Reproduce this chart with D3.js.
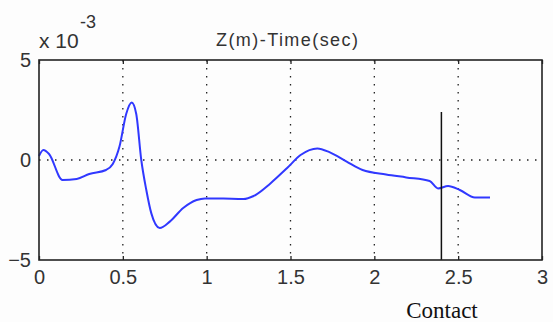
<!DOCTYPE html>
<html lang="en">
<head>
<meta charset="UTF-8">
<title>Z(m)-Time(sec)</title>
<script src="https://cdn.jsdelivr.net/npm/d3@7"></script>
<style>
  body { margin: 0; background: #fdfdfd; }
  svg { display: block; }
</style>
</head>
<body>
<script>
// time (sec) and Z (x 10^-3 m)
const timeSec = [0, 0.026, 0.06, 0.14, 0.225, 0.30, 0.40, 0.44, 0.48, 0.52, 0.553, 0.58, 0.61, 0.64, 0.67, 0.72,
  0.78, 0.86, 0.94, 0.99, 1.10, 1.22, 1.28, 1.38, 1.48, 1.56, 1.66, 1.735, 1.835, 1.93, 2.07, 2.19, 2.33, 2.38,
  2.44, 2.51, 2.60, 2.69];
const zVal = [0.2, 0.5, 0.3, -1.0, -0.95, -0.7, -0.5, -0.2, 0.67, 2.3, 2.87, 2.3, 0, -1.5, -2.67, -3.4,
  -3.08, -2.4, -2.0, -1.92, -1.93, -1.95, -1.8, -1.17, -0.4, 0.25, 0.58, 0.38, -0.08, -0.5, -0.72, -0.87, -1.05, -1.42,
  -1.3, -1.5, -1.87, -1.88];
const xTicks = [0, 0.5, 1, 1.5, 2, 2.5, 3];
const yTicks = [-5, 0, 5];
const contactT = 2.40;
const contactTop = 2.4;

const w = 553, h = 322;
const padL = 39, padR = 542, padT = 60, padB = 260;
const sans = 'Liberation Sans, Arial';

const svg = d3.select('body').append('svg').attr('width', w).attr('height', h);

const x = d3.scaleLinear().domain([0, 3]).range([padL, padR]);
const y = d3.scaleLinear().domain([-5, 5]).range([padB, padT]);

// dotted grid
svg.append('g').selectAll('line').data(xTicks.slice(1, -1)).enter().append('line')
  .attr('x1', d => x(d)).attr('x2', d => x(d)).attr('y1', padT).attr('y2', padB)
  .attr('stroke', '#222').attr('stroke-width', 1.3).attr('stroke-dasharray', '1.5,6.5');
svg.append('g').selectAll('line').data([0]).enter().append('line')
  .attr('x1', padL).attr('x2', padR).attr('y1', d => y(d)).attr('y2', d => y(d))
  .attr('stroke', '#222').attr('stroke-width', 1.3).attr('stroke-dasharray', '1.5,6.5');

// curve
const line = d3.line().x((d, i) => x(timeSec[i])).y(d => y(d)).curve(d3.curveMonotoneX);
svg.append('path').datum(zVal).attr('d', line)
  .attr('fill', 'none').attr('stroke', '#3038ff').attr('stroke-width', 2);

// contact marker
svg.append('line').attr('x1', x(contactT)).attr('x2', x(contactT))
  .attr('y1', y(contactTop)).attr('y2', padB).attr('stroke', '#111').attr('stroke-width', 1.5);

// frame
svg.append('rect').attr('x', padL).attr('y', padT).attr('width', padR - padL).attr('height', padB - padT)
  .attr('fill', 'none').attr('stroke', '#222').attr('stroke-width', 1.6);

// axes (ticks inward)
const xAxis = d3.axisBottom(x).tickValues(xTicks).tickFormat(d3.format('')).tickSizeInner(-4).tickSizeOuter(0).tickPadding(10);
const gx = svg.append('g').attr('transform', 'translate(0,' + padB + ')').call(xAxis);
gx.select('.domain').remove();
gx.selectAll('line').attr('stroke', '#222').attr('stroke-width', 1.3);
gx.selectAll('text').attr('font-family', sans).attr('font-size', 20).attr('fill', '#333');

const xTop = d3.axisTop(x).tickValues(xTicks).tickFormat('').tickSizeInner(-4).tickSizeOuter(0);
const gt = svg.append('g').attr('transform', 'translate(0,' + padT + ')').call(xTop);
gt.select('.domain').remove();
gt.selectAll('line').attr('stroke', '#222').attr('stroke-width', 1.3);

const yAxis = d3.axisLeft(y).tickValues(yTicks).tickFormat(d3.format('')).tickSizeInner(0).tickSizeOuter(0).tickPadding(8);
const gy = svg.append('g').attr('transform', 'translate(' + padL + ',0)').call(yAxis);
gy.select('.domain').remove();
gy.selectAll('text').attr('font-family', sans).attr('font-size', 20).attr('fill', '#333');

// exponent
svg.append('text').attr('x', 39).attr('y', 48).attr('font-family', sans)
  .attr('font-size', 21).attr('fill', '#333').text('x 10');
svg.append('text').attr('x', 80).attr('y', 28).attr('font-family', sans)
  .attr('font-size', 18).attr('fill', '#333').text('-3');

// title
svg.append('text').attr('x', 287).attr('y', 46).attr('text-anchor', 'middle')
  .attr('font-family', sans).attr('font-size', 18).attr('fill', '#333')
  .attr('textLength', 142).text('Z(m)-Time(sec)');

svg.append('text').attr('x', 442).attr('y', 318).attr('text-anchor', 'middle')
  .attr('font-family', 'Liberation Serif, serif').attr('font-size', 23).attr('fill', '#111')
  .text('Contact');
</script>
</body>
</html>
